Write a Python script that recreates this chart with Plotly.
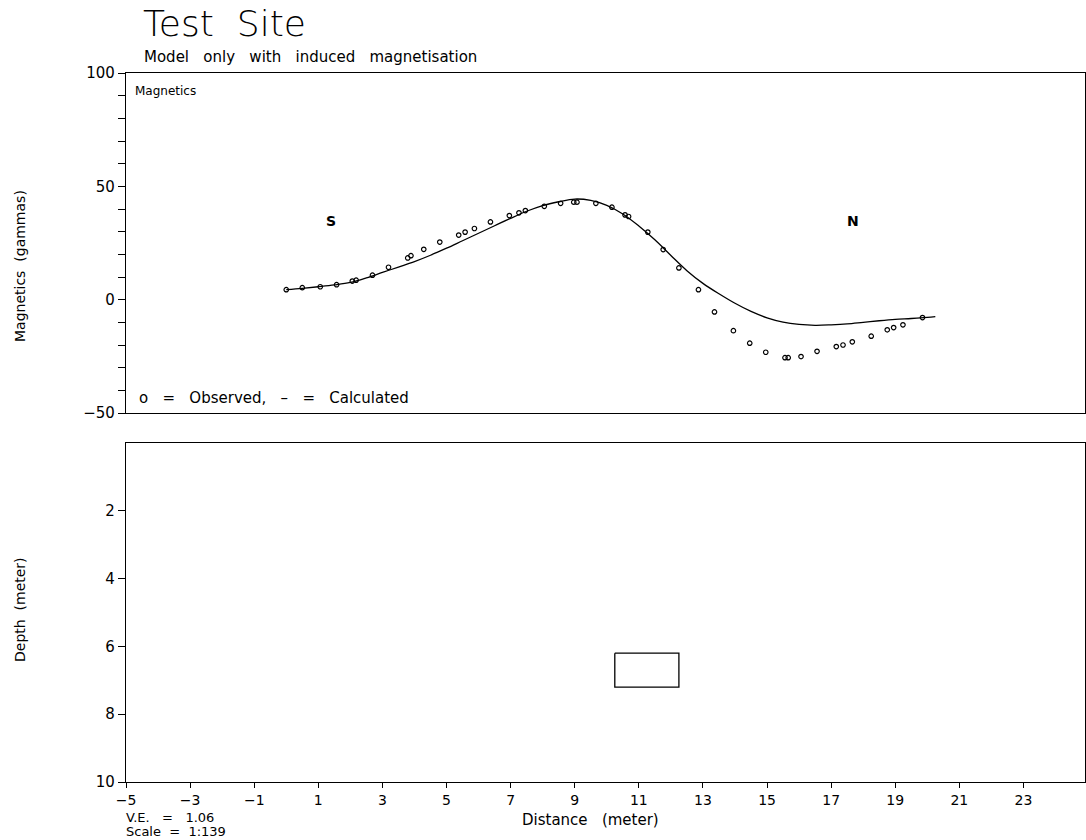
import plotly.graph_objects as go

# ---------------- data ----------------
obs_x = [0.0, 0.5, 1.06, 1.57, 2.06, 2.18, 2.69, 3.19, 3.79, 3.89, 4.29, 4.79,
         5.38, 5.58, 5.87, 6.37, 6.96, 7.26, 7.46, 8.05, 8.56, 8.97, 9.07, 9.66,
         10.16, 10.57, 10.68, 11.28, 11.76, 12.25, 12.86, 13.36, 13.95, 14.46,
         14.96, 15.56, 15.66, 16.06, 16.56, 17.16, 17.37, 17.66, 18.25, 18.75,
         18.95, 19.24, 19.85]
obs_v = [4.4, 5.3, 5.7, 6.6, 8.2, 8.6, 10.8, 14.3, 18.4, 19.4, 22.2, 25.4,
         28.5, 29.8, 31.4, 34.3, 37.1, 38.3, 39.3, 41.2, 42.5, 43.0, 43.0, 42.5,
         40.8, 37.4, 36.7, 29.8, 22.1, 14.0, 4.4, -5.4, -13.7, -19.2,
         -23.2, -25.6, -25.6, -25.1, -22.8, -20.7, -20.0, -18.6, -16.1, -13.3,
         -12.3, -11.1, -7.9]

calc_x = [0.0, 0.5, 1.0, 1.5, 2.0, 2.5, 3.0, 3.5, 4.0, 4.5, 5.0, 5.5, 6.0, 6.5,
          7.0, 7.5, 8.0, 8.5, 9.0, 9.5, 10.0, 10.5, 11.0, 11.5, 12.0, 12.5,
          13.0, 13.5, 14.0, 14.5, 15.0, 15.5, 16.0, 16.5, 17.0, 17.5, 18.0,
          18.5, 19.0, 19.5, 20.0, 20.25]
calc_v = [4.4, 5.0, 5.7, 6.5, 7.6, 9.6, 12.0, 14.4, 16.8, 19.6, 22.7, 26.0,
          29.3, 32.6, 35.9, 39.0, 41.5, 43.2, 44.4, 43.8, 41.6, 37.8, 32.5,
          26.4, 19.5, 12.8, 7.2, 2.6, -1.6, -5.2, -8.0, -9.9, -10.9, -11.3,
          -11.1, -10.7, -10.0, -9.3, -8.7, -8.3, -7.8, -7.5]

body_x = [10.25, 12.25, 12.25, 10.25, 10.25]
body_depth = [6.2, 6.2, 7.2, 7.2, 6.2]

mag_ticks = [100, 50, 0, -50]
depth_ticks = [2, 4, 6, 8, 10]
dist_ticks = list(range(-5, 24, 2))

FONT = "DejaVu Sans"

W, H = 1086, 840
pl, pr, pt, pb = 126, 1, 73, 58
pw, ph = W - pl - pr, H - pt - pb


def px(xp):
    return (xp - pl) / pw


def py(yp):
    return (H - pb - yp) / ph


top_lo = py(413)
bot_hi = py(443)

fig = go.Figure()

fig.add_trace(go.Scatter(x=calc_x, y=calc_v, mode="lines",
                         line=dict(color="black", width=1.3, shape="spline"),
                         xaxis="x2", yaxis="y2", showlegend=False))
fig.add_trace(go.Scatter(x=obs_x, y=obs_v, mode="markers",
                         marker=dict(symbol="circle-open", size=4.5, color="black",
                                     line=dict(width=1.2, color="black")),
                         xaxis="x2", yaxis="y2", showlegend=False))
fig.add_trace(go.Scatter(x=body_x, y=body_depth, mode="lines",
                         line=dict(color="black", width=1.3),
                         xaxis="x", yaxis="y", showlegend=False))

axis_common = dict(showline=True, linecolor="black", linewidth=1.3, mirror=True,
                   showgrid=False, zeroline=False,
                   tickfont=dict(family=FONT, size=15, color="black"),
                   ticks="outside", tickcolor="black", ticklen=7, tickwidth=1)

fig.update_layout(
    width=W, height=H,
    margin=dict(l=pl, r=pr, t=pt, b=pb),
    paper_bgcolor="white", plot_bgcolor="white",
    font=dict(family=FONT, color="black"),
    xaxis=dict(axis_common, range=[-5, 24.92], tickvals=dist_ticks,
               ticklen=5, anchor="y", domain=[0, 1],
               tickfont=dict(family=FONT, size=14, color="black")),
    yaxis=dict(axis_common, range=[10, 0], tickvals=depth_ticks,
               domain=[0, bot_hi], anchor="x"),
    xaxis2=dict(axis_common, range=[-5, 24.92], showticklabels=False,
                ticks="", anchor="y2", domain=[0, 1]),
    yaxis2=dict(axis_common, range=[-50, 100], tickvals=mag_ticks,
                domain=[top_lo, 1], anchor="x2",
                minor=dict(dtick=10, ticks="outside", ticklen=7,
                           tickcolor="black", tickwidth=1)),
)

ann = []


def txt(x, y, s, size, xanchor="left", yanchor="middle", angle=0, bold=False,
        weight=None):
    f = dict(family=FONT, size=size, color="black")
    if weight is not None:
        f["weight"] = weight
    ann.append(dict(x=x, y=y, xref="paper", yref="paper",
                    text=(f"<b>{s}</b>" if bold else s),
                    showarrow=False, xanchor=xanchor, yanchor=yanchor,
                    textangle=angle, font=f))


S2 = "&nbsp;&nbsp;"
S3 = "&nbsp;&nbsp;&nbsp;"
txt(px(141), py(23), "Test" + S2 + "Site", 36, weight=200)
txt(px(142), py(57), S3.join(["Model", "only", "with", "induced", "magnetisation"]), 15)
txt(px(133), py(91), "Magnetics", 12)
txt(px(137), py(398), S3.join(["o", "=", "Observed,", "&#8211;", "=", "Calculated"]), 15)
txt(px(331), py(221), "S", 14, xanchor="center", bold=True)
txt(px(853), py(221), "N", 14, xanchor="center", bold=True)
txt(px(20), py(266), "Magnetics" + S2 + "(gammas)", 14, xanchor="center", angle=-90)
txt(px(20), py(610), "Depth" + S2 + "(meter)", 14, xanchor="center", angle=-90)
txt(px(590), py(820), "Distance" + S3 + "(meter)", 15, xanchor="center")
txt(px(124), py(817), "V.E." + S3 + "=" + S3 + "1.06", 13)
txt(px(124), py(832), "Scale" + S2 + "=" + S2 + "1:139", 13)

fig.update_layout(annotations=ann)

fig.write_html("out.html",
               config={"displayModeBar": False},
               post_script="document.body.style.margin='0';document.body.style.overflow='hidden';")
